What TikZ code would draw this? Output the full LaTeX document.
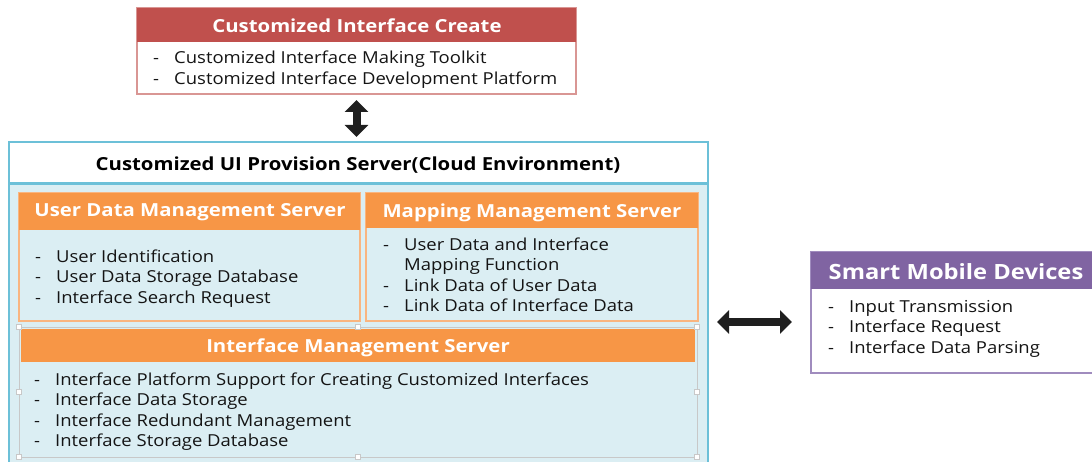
\documentclass[tikz,border=0pt]{standalone}
\usepackage{fontspec}
\setmainfont{Open Sans}
\newfontfamily\bodyfont{Open Sans}[FakeStretch=1.12]
\newfontfamily\headfont{Open Sans}[FakeStretch=1.13]
\usetikzlibrary{arrows.meta}

\definecolor{redhead}{HTML}{C0504D}
\definecolor{redline}{HTML}{D99694}
\definecolor{orangehead}{HTML}{F79646}
\definecolor{orangeline}{HTML}{F9B580}
\definecolor{bluefill}{HTML}{DBEEF3}
\definecolor{blueline}{HTML}{6CC0D8}
\definecolor{purplehead}{HTML}{8064A2}
\definecolor{purpleline}{HTML}{A08CBE}
\definecolor{inktext}{HTML}{141414}
\definecolor{handlegray}{HTML}{C8C8C8}

\newcommand{\itm}[1]{\makebox[21pt][l]{-}#1}
\newcommand{\cnt}[1]{\makebox[21pt][l]{}#1}

\begin{document}
\begin{tikzpicture}[x=1pt,y=-1pt,
  panel/.style={draw, inner sep=0pt, outer sep=0pt, anchor=north west, line width=1.2pt},
  headbar/.style={inner sep=0pt, outer sep=0pt, anchor=north west},
  headtext/.style={text=white, font=\headfont\fontsize{18}{20}\selectfont\bfseries, inner sep=0pt},
  bullets/.style={anchor=base west, align=left, inner sep=0pt, text=inktext,
    font=\bodyfont\fontsize{16.5}{20.4}\selectfont},
  blockarrow/.style={line width=8pt, draw=black!88,
    {Triangle[width=23pt,length=12pt,fill=black!88]}-{Triangle[width=23pt,length=12pt,fill=black!88]}},
  handle/.style={draw=handlegray, fill=white, line width=0.6pt}
]
\useasboundingbox (0,0) rectangle (1092,462);
\clip (0,0) rectangle (1092,462);

% ---------- Customized Interface Create ----------
\node[panel, draw=redline, fill=white, minimum width=439pt, minimum height=86pt] (create) at (137,8) {};
\node[headbar, fill=redhead, minimum width=439pt, minimum height=34pt] (createhead) at (137,8) {};
\node[headtext] (createtitle) at (357,26) {Customized Interface Create};
% list nodes are anchored at the baseline of their last line
\node[bullets] (createlist) at (153,84.4)
  {\itm{Customized Interface Making Toolkit}\\ \itm{Customized Interface Development Platform}};

% ---------- Cloud server frame ----------
\node[panel, draw=blueline, fill=bluefill, line width=1.5pt, minimum width=699pt, minimum height=330pt] (server) at (9,142) {};
\node[headbar, fill=white, minimum width=697.5pt, minimum height=41pt] (serverhead) at (9.75,142.75) {};
\draw[blueline, line width=2.5pt] (serverhead.south west) -- (serverhead.south east);
\node[inner sep=0pt, text=black, font=\headfont\fontsize{18}{20}\selectfont\bfseries] (servertitle) at (358,165)
  {Customized UI Provision Server(Cloud Environment)};

% ---------- User Data Management Server ----------
\node[panel, draw=orangeline, fill=bluefill, minimum width=341pt, minimum height=128pt] (user) at (19,193) {};
\node[headbar, fill=orangehead, minimum width=341pt, minimum height=37pt] (userhead) at (19,193) {};
\node[headtext] (usertitle) at (190,212) {User Data Management Server};
\node[bullets] (userlist) at (35,303.3)
  {\itm{User Identification}\\ \itm{User Data Storage Database}\\ \itm{Interface Search Request}};

% ---------- Mapping Management Server ----------
\node[panel, draw=orangeline, fill=bluefill, minimum width=332pt, minimum height=128pt] (mapping) at (366,193) {};
\node[headbar, fill=orangehead, minimum width=332pt, minimum height=35pt] (mappinghead) at (366,193) {};
\node[headtext] (mappingtitle) at (532,213) {Mapping Management Server};
\node[bullets] (mappinglist) at (383,311.7)
  {\itm{User Data and Interface}\\ \cnt{Mapping Function}\\ \itm{Link Data of User Data}\\ \itm{Link Data of Interface Data}};

% ---------- Interface Management Server ----------
\node[panel, draw=handlegray, fill=bluefill, line width=0.6pt, minimum width=678pt, minimum height=130pt] (iface) at (19,327) {};
\node[headbar, fill=orangehead, minimum width=674pt, minimum height=33pt] (ifacehead) at (21,329) {};
\node[headtext] (ifacetitle) at (358,347.5) {Interface Management Server};
\node[bullets] (ifacelist) at (34,446.7)
  {\itm{Interface Platform Support for Creating Customized Interfaces}\\ \itm{Interface Data Storage}\\
   \itm{Interface Redundant Management}\\ \itm{Interface Storage Database}};
\foreach \a in {north west,north,north east,east,south east,south,south west,west}
  \draw[handle] ([shift={(-2.5,-2.5)}]iface.\a) rectangle ++(5,5);

% ---------- Smart Mobile Devices ----------
\node[panel, draw=purpleline, fill=white, minimum width=300pt, minimum height=121pt] (mobile) at (811,252) {};
\node[headbar, fill=purplehead, minimum width=300pt, minimum height=37pt] (mobilehead) at (811,252) {};
\node[headtext, font=\headfont\fontsize{21}{22}\selectfont\bfseries] (mobiletitle) at (956,272) {Smart Mobile Devices};
\node[bullets] (mobilelist) at (828,353.3)
  {\itm{Input Transmission}\\ \itm{Interface Request}\\ \itm{Interface Data Parsing}};

% ---------- Connectors ----------
\draw[blockarrow, shorten <=6pt, shorten >=5pt] (create.south) -- (create.south |- server.north);
\draw[blockarrow, shorten <=9pt, shorten >=19pt] (server.east |- 0,322) -- (mobile.west |- 0,322);
\end{tikzpicture}
\end{document}
